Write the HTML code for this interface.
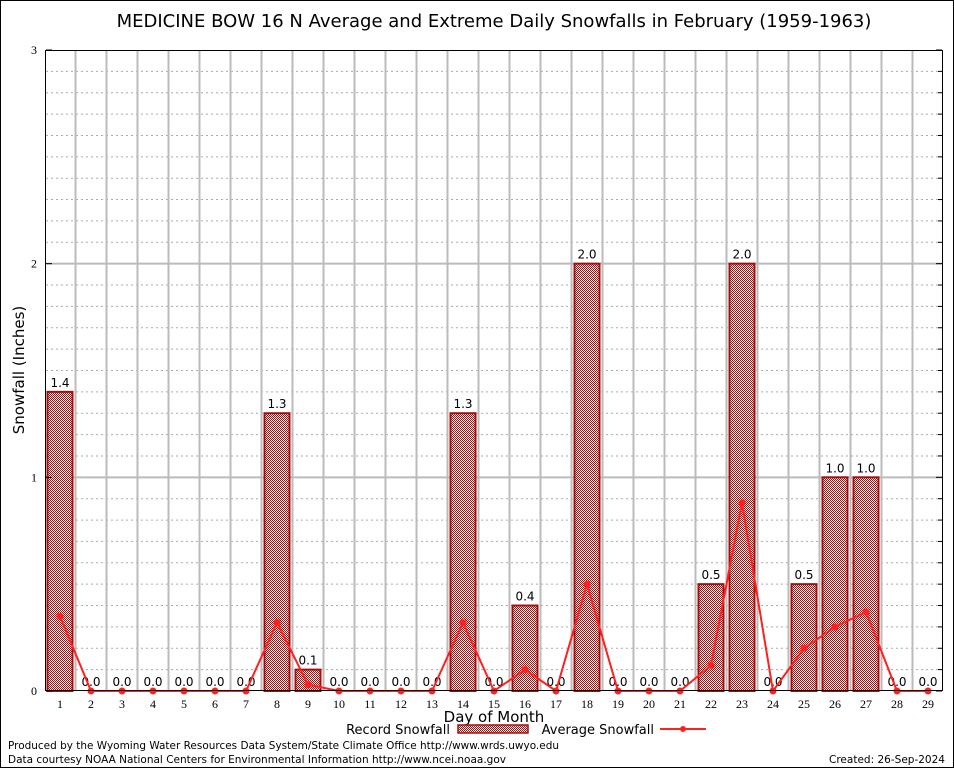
<!DOCTYPE html>
<html><head><meta charset="utf-8"><style>
body{margin:0;background:#fff}
svg{display:block;font-family:"DejaVu Sans","Liberation Sans",sans-serif}
</style></head><body>
<svg id="chart" width="954" height="768" viewBox="0 0 954 768" xmlns="http://www.w3.org/2000/svg">
<defs>
<pattern id="chk" width="2" height="2" patternUnits="userSpaceOnUse">
<rect width="2" height="2" fill="#fff"/><rect width="1" height="1" fill="#a01010"/><rect x="1" y="1" width="1" height="1" fill="#a01010"/>
</pattern>
</defs>
<rect x="0.5" y="0.5" width="953" height="767" fill="#fff" stroke="#000"/>
<text x="494" y="27" font-size="18" text-anchor="middle">MEDICINE BOW 16 N Average and Extreme Daily Snowfalls in February (1959-1963)</text>
<g id="grid"></g>
<g id="bars"></g>
<g id="avg"></g>
<rect x="45.5" y="50.5" width="897" height="640" fill="none" stroke="#000"/>
<g id="axes"></g>
<text transform="translate(24,370) rotate(-90)" font-size="15" text-anchor="middle">Snowfall (Inches)</text>
<text x="494" y="722" font-size="15" text-anchor="middle">Day of Month</text>
<g>
<text x="450" y="734" font-size="13" text-anchor="end">Record Snowfall</text>
<rect x="458" y="725" width="70" height="8" fill="url(#chk)" stroke="#a01010" stroke-width="1.5"/>
</g>
<g>
<text x="654" y="734" font-size="13" text-anchor="end">Average Snowfall</text>
<line x1="660" y1="729" x2="706" y2="729" stroke="#ff2020" stroke-width="2"/>
<circle cx="683" cy="729" r="3" fill="#ff2020"/>
</g>
<text x="8" y="749" font-size="11" textLength="551" lengthAdjust="spacingAndGlyphs">Produced by the Wyoming Water Resources Data System/State Climate Office http://www.wrds.uwyo.edu</text>
<text x="8" y="763" font-size="11" textLength="498" lengthAdjust="spacingAndGlyphs">Data courtesy NOAA National Centers for Environmental Information http://www.ncei.noaa.gov</text>
<text x="945" y="763" font-size="11" text-anchor="end" textLength="116" lengthAdjust="spacingAndGlyphs">Created: 26-Sep-2024</text>
</svg>
<script>
const days=[1,2,3,4,5,6,7,8,9,10,11,12,13,14,15,16,17,18,19,20,21,22,23,24,25,26,27,28,29];
const recordSnow=[1.4,0,0,0,0,0,0,1.3,0.1,0,0,0,0,1.3,0,0.4,0,2.0,0,0,0,0.5,2.0,0,0.5,1.0,1.0,0,0];
const avgSnow=[0.35,0,0,0,0,0,0,0.32,0.03,0,0,0,0,0.32,0,0.1,0,0.5,0,0,0,0.12,0.88,0,0.2,0.3,0.37,0,0];
const yTicks=[0,1,2,3];
const NS="http://www.w3.org/2000/svg";
const x=d=>60+(d-1)*31;
const y=v=>691-v*213.67;
function mk(t,a,p){const e=document.createElementNS(NS,t);for(const k in a)e.setAttribute(k,a[k]);p.appendChild(e);return e;}
const grid=document.getElementById('grid'),bars=document.getElementById('bars'),avg=document.getElementById('avg'),axes=document.getElementById('axes');
for(let i=1;i<30;i++){if(i%10===0)continue;
 const l=mk('line',{x1:46,x2:942,y1:y(i/10),y2:y(i/10),stroke:'#aaa','stroke-dasharray':'2,3','stroke-width':1},grid);
 
 mk('line',{x1:938,x2:942,y1:y(i/10),y2:y(i/10),stroke:'#000'},axes);}
yTicks.forEach(t=>{
 if(t>0&&t<3){const l=mk('line',{x1:46,x2:942,y1:y(t),y2:y(t),stroke:'#bbb','stroke-width':2},grid);
 }
 mk('line',{x1:46,x2:52,y1:y(t),y2:y(t),stroke:'#000'},axes);mk('line',{x1:936,x2:942,y1:y(t),y2:y(t),stroke:'#000'},axes);
 const tx=mk('text',{x:37,y:y(t)+4,'font-size':12,'text-anchor':'end','font-family':'Liberation Serif,serif'},axes);tx.textContent=t;
 
});
days.forEach(d=>{
 if(d<29){const l=mk('line',{x1:x(d)+15.5,x2:x(d)+15.5,y1:51,y2:690,stroke:'#bbb','stroke-width':2},grid);
 }
 const tx=mk('text',{x:x(d),y:708,'font-size':12,'text-anchor':'middle','font-family':'Liberation Serif,serif'},axes);tx.textContent=d;
 
});
recordSnow.forEach((v,i)=>{const d=days[i];
 if(v>0){const r=mk('rect',{x:x(d)-12.5,y:y(v),width:25,height:y(0)-y(v),fill:'url(#chk)',stroke:'#a01010','stroke-width':2},bars);
 }
 const tx=mk('text',{x:x(d),y:y(v)-5,'font-size':12,'text-anchor':'middle'},bars);tx.textContent=v.toFixed(1);
 
});
const pts=avgSnow.map((v,i)=>x(days[i])+','+y(v)).join(' ');
const pl=mk('polyline',{points:pts,fill:'none',stroke:'#ff2020','stroke-width':2},avg);

avgSnow.forEach((v,i)=>{const c=mk('circle',{cx:x(days[i]),cy:y(v),r:3.5,fill:'#ff2020'},avg);
 });
</script>
</body></html>
